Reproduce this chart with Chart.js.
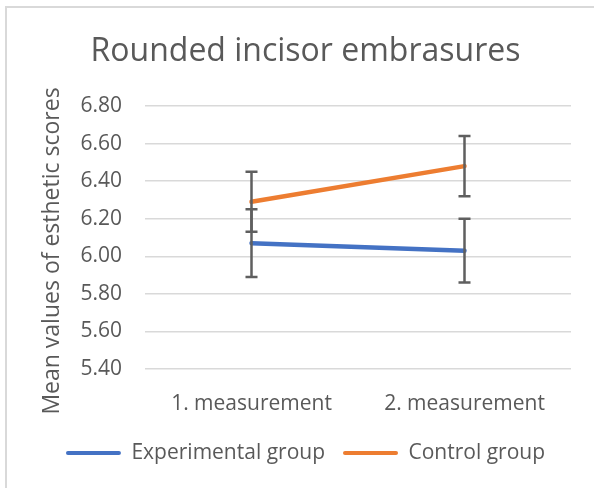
<!DOCTYPE html>
<html>
<head>
<meta charset="utf-8">
<script src="https://cdn.jsdelivr.net/npm/chart.js@4.4.1/dist/chart.umd.min.js"></script>
<style>
  html, body { margin: 0; padding: 0; background: #ffffff; overflow: hidden; }
  #wrap { position: relative; width: 594px; height: 488px; overflow: hidden; }
  #frame { position: absolute; left: 5px; top: 6px; width: 700px; height: 700px; border: 2px solid #d9d9d9; box-sizing: border-box; }
  #c { position: absolute; left: 0; top: 0; }
</style>
</head>
<body>
<div id="wrap">
  <div id="frame"></div>
  <canvas id="c" width="594" height="488"></canvas>
</div>
<script>
const categories = ["1. measurement", "2. measurement"];
const experimentalValues = [6.07, 6.03];
const experimentalErrors = [0.18, 0.17];
const controlValues = [6.29, 6.48];
const controlErrors = [0.16, 0.16];
const yTickMin = 5.4;
const yTickMax = 6.8;
const yTickStep = 0.2;
const chartTitle = "Rounded incisor embrasures";
const yAxisTitle = "Mean values of esthetic scores";

const TEXT = "#595959";
const FONT = "'Open Sans', 'DejaVu Sans', sans-serif";

const errorBarPlugin = {
  id: "errorBars",
  afterDatasetsDraw(chart) {
    const ctx = chart.ctx;
    const x = chart.scales.x, y = chart.scales.y;
    ctx.save();
    ctx.strokeStyle = "#5f5f5f";
    ctx.lineWidth = 2.5;
    chart.data.datasets.forEach(ds => {
      ds.data.forEach((v, i) => {
        const e = ds.errors[i];
        const px = x.getPixelForValue(i);
        const top = y.getPixelForValue(v + e);
        const bot = y.getPixelForValue(v - e);
        ctx.beginPath();
        ctx.moveTo(px, top); ctx.lineTo(px, bot);
        ctx.moveTo(px - 6, top); ctx.lineTo(px + 6, top);
        ctx.moveTo(px - 6, bot); ctx.lineTo(px + 6, bot);
        ctx.stroke();
      });
    });
    ctx.restore();
  }
};

const yTitlePlugin = {
  id: "yTitle",
  afterDraw(chart) {
    const ctx = chart.ctx;
    ctx.save();
    ctx.translate(52, 251);
    ctx.rotate(-Math.PI / 2);
    ctx.font = "23px " + FONT;
    ctx.fillStyle = TEXT;
    ctx.textAlign = "center";
    ctx.textBaseline = "middle";
    ctx.fillText(yAxisTitle, 0, 0);
    ctx.restore();
  }
};

new Chart(document.getElementById("c"), {
  type: "line",
  data: {
    labels: categories,
    datasets: [
      {
        label: "Experimental group",
        data: experimentalValues,
        errors: experimentalErrors,
        borderColor: "#4472C4",
        backgroundColor: "#4472C4",
        borderWidth: 4.5,
        borderCapStyle: "round",
        pointRadius: 0,
        pointHoverRadius: 0,
        fill: false
      },
      {
        label: "Control group",
        data: controlValues,
        errors: controlErrors,
        borderColor: "#ED7D31",
        backgroundColor: "#ED7D31",
        borderWidth: 4.5,
        borderCapStyle: "round",
        pointRadius: 0,
        pointHoverRadius: 0,
        fill: false
      }
    ]
  },
  options: {
    responsive: false,
    animation: false,
    devicePixelRatio: 1,
    layout: { padding: { left: 40, right: 23, top: 0, bottom: 14.5 } },
    plugins: {
      title: {
        display: true,
        text: chartTitle,
        color: TEXT,
        align: "center",
        font: { family: FONT, size: 32, weight: "normal", lineHeight: 1.2 },
        padding: { top: 33, bottom: 34.6 }
      },
      legend: {
        display: true,
        position: "bottom",
        labels: {
          color: TEXT,
          font: { family: FONT, size: 21 },
          boxWidth: 55,
          boxHeight: 4,
          padding: 18,
          generateLabels(chart) {
            return chart.data.datasets.map((ds, i) => ({
              text: ds.label,
              fillStyle: ds.borderColor,
              strokeStyle: ds.borderColor,
              lineWidth: 0,
              borderRadius: 2,
              datasetIndex: i,
              fontColor: TEXT
            }));
          }
        }
      },
      tooltip: { enabled: false }
    },
    scales: {
      x: {
        offset: true,
        grid: { display: false, drawTicks: false },
        border: { display: false },
        ticks: { color: TEXT, font: { family: FONT, size: 21 }, padding: 22, maxRotation: 0 },
        afterFit(s) { s.height = 55.5; }
      },
      y: {
        min: yTickMin,
        max: yTickMax,
        grid: { color: "#d9d9d9", lineWidth: 1.5, drawTicks: false },
        border: { display: false },
        ticks: {
          stepSize: yTickStep,
          color: TEXT,
          font: { family: FONT, size: 21 },
          padding: 23,
          callback: v => Number(v).toFixed(2)
        },
        afterFit(s) { s.width = 105; }
      }
    }
  },
  plugins: [errorBarPlugin, yTitlePlugin]
});
</script>
</body>
</html>
